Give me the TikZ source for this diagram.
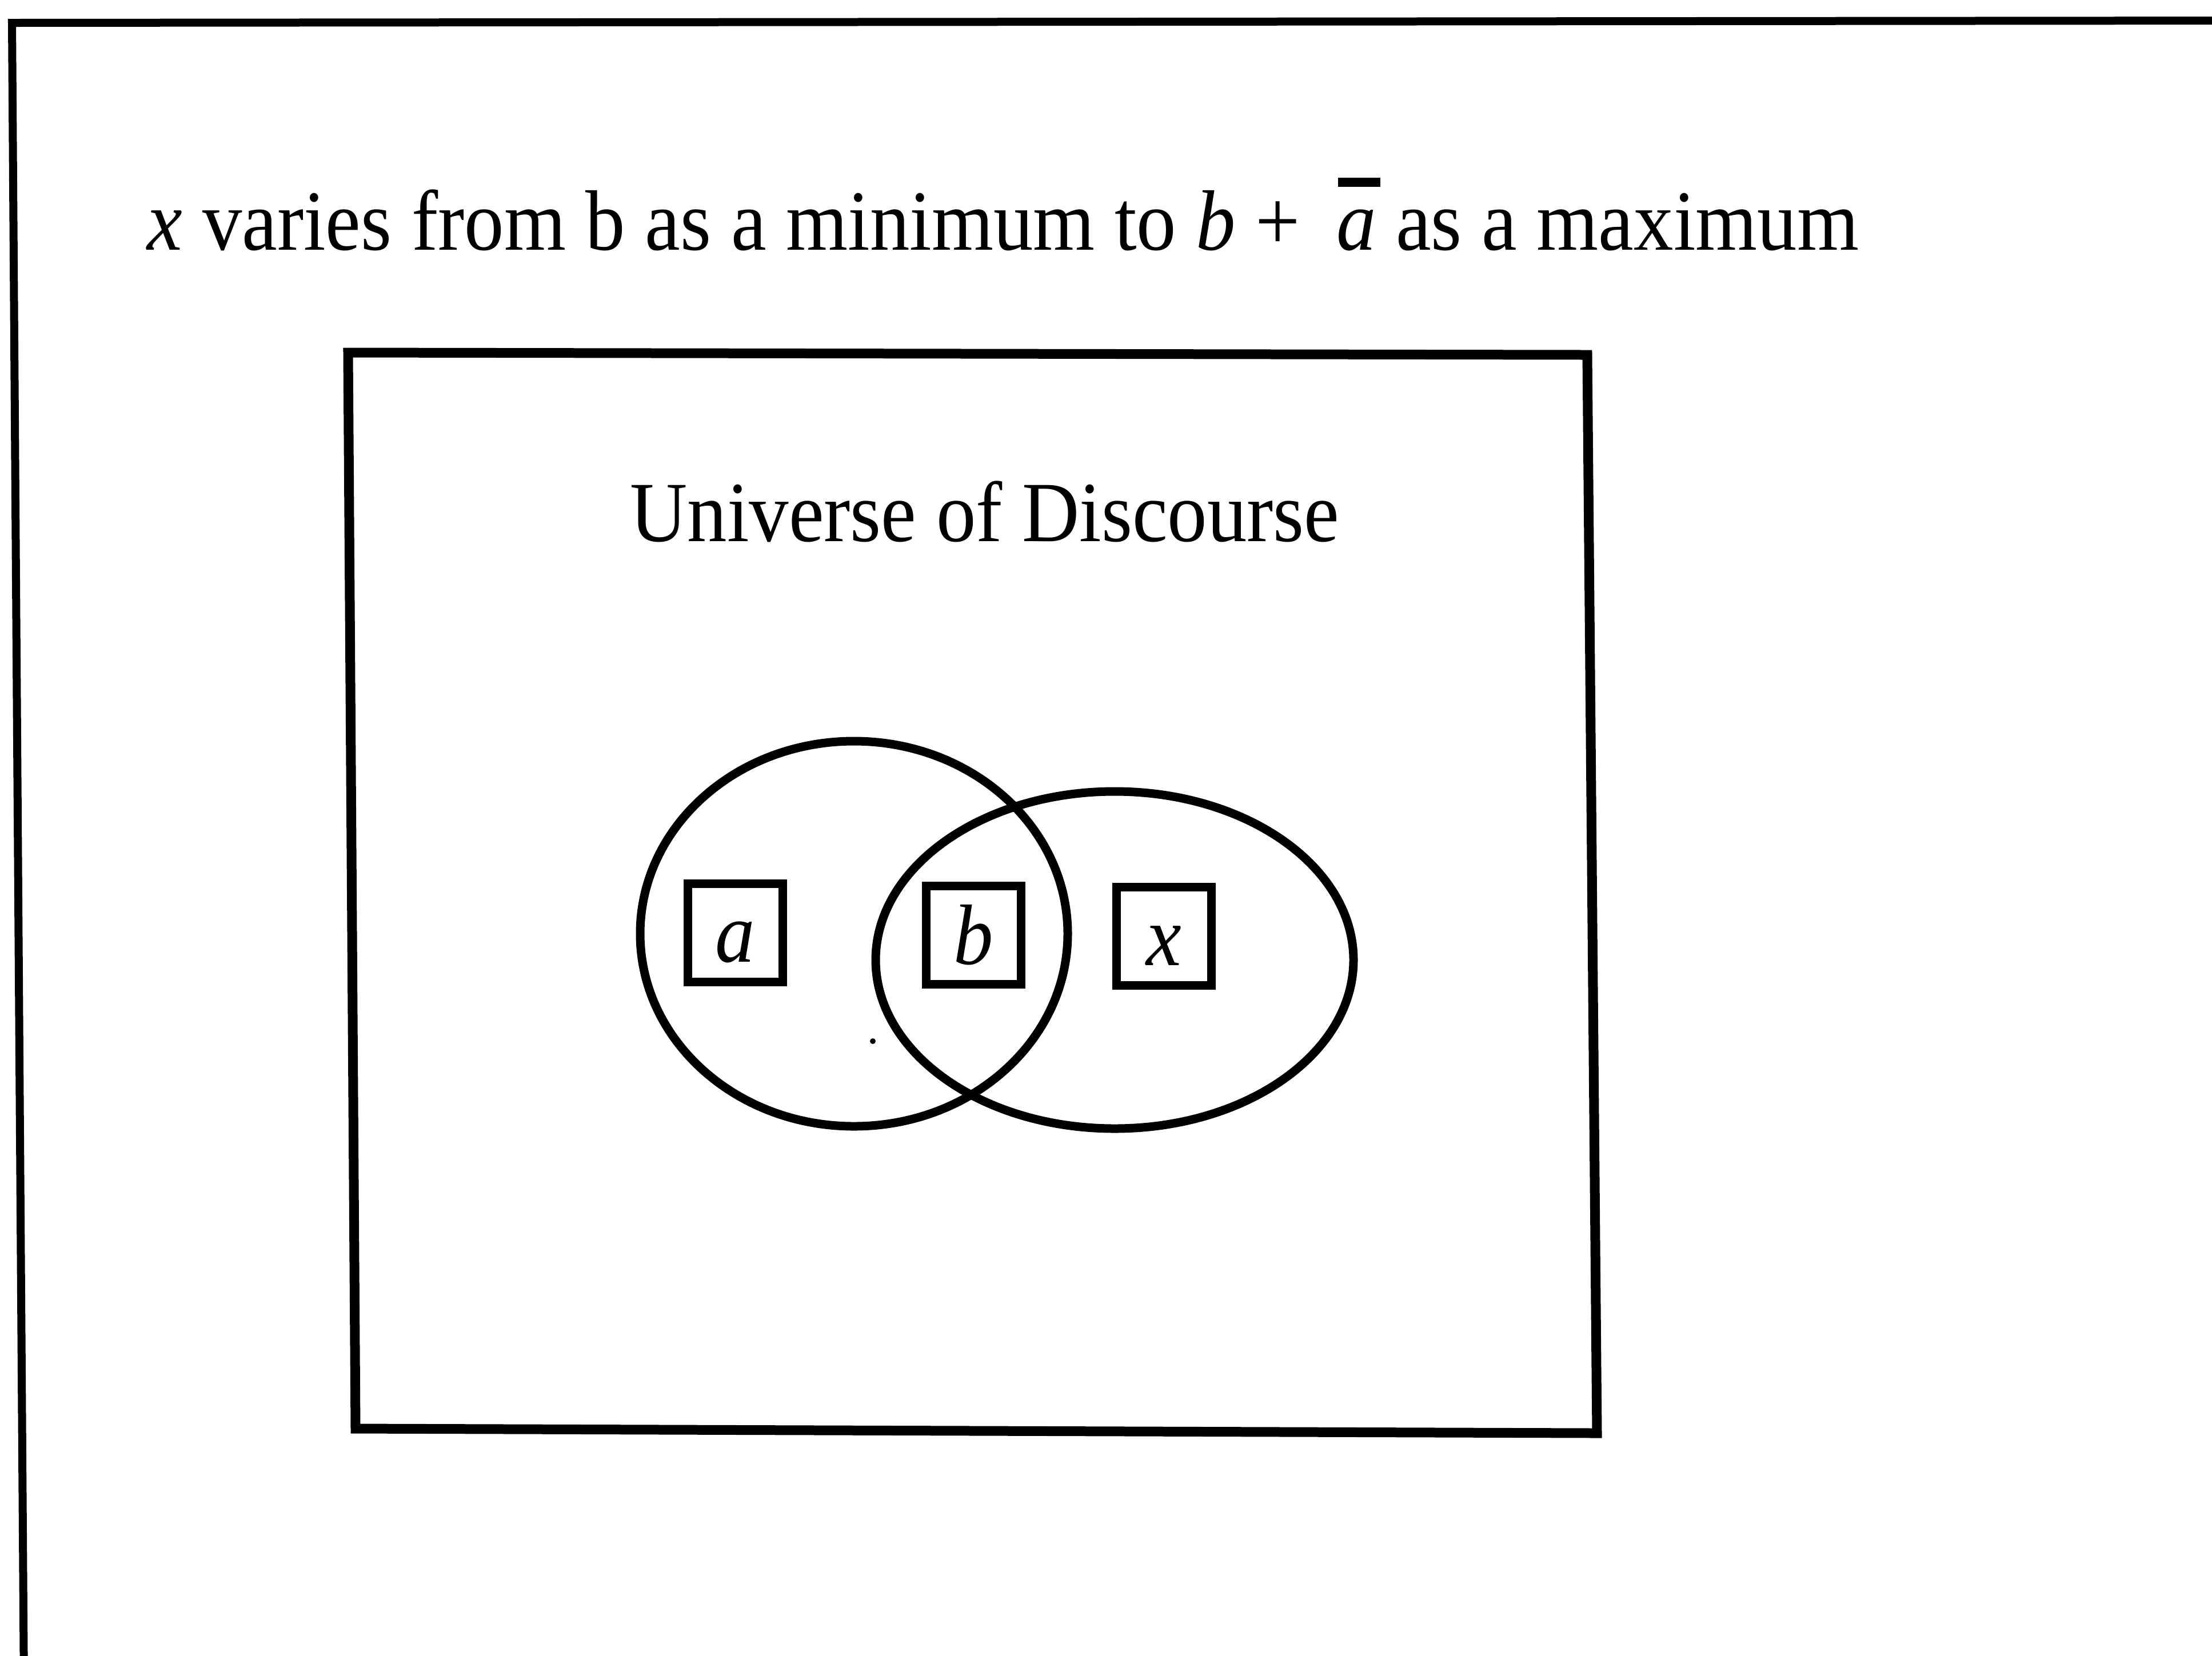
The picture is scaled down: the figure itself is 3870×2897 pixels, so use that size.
\documentclass[tikz,border=0pt]{standalone}
\usepackage{fontspec}
\setmainfont[FakeStretch=0.925]{Liberation Serif}
\usepackage{tikz}
\newcommand{\abar}{\rlap{\hspace{0.02em}\rule[0.73em]{0.49em}{0.11em}}\textit{a}}

\begin{document}
\begin{tikzpicture}[
x=0.1mm, y=-0.1mm,
label/.style={
font=\fontsize{42.7}{51}\selectfont,
inner sep=0pt
},
frame/.style={
line width=1.4mm,
draw=black
},
venn/.style={
line width=1.5mm,
draw=black
},
letterbox/.style={
draw,
line width=1.5mm,
minimum width=16.6mm,
minimum height=17.2mm,
inner sep=0pt,
text height=10.2mm,
text depth=0pt,
font=\fontsize{42.7}{51}\selectfont\itshape
}
]

\useasboundingbox (0,0) rectangle (3870,2897);

\draw[frame] (42,2960) -- (21,40) -- (3930,36);

\node[label, anchor=base west] (title) at (257,437)
{\textit{x} varies from b as a minimum to \textit{b} +\hspace{0.42em}\abar{} as a maximum};

\draw[frame, line width=1.7mm] (609,617) -- (2777,621) -- (2794,2508) -- (622,2500) -- cycle;

\node[label, anchor=base] (universe) at (1723,947) {Universe of Discourse};

\draw[venn] (1494,1634) ellipse (374 and 337);
\draw[venn] (1950,1680) ellipse (418 and 295);

\node[letterbox] (a) at (1286,1632) {a};
\node[letterbox] (b) at (1703,1636) {b};
\node[letterbox] (x) at (2036,1638) {x};

\fill (1527,1822) circle (5);

\end{tikzpicture}
\end{document}
